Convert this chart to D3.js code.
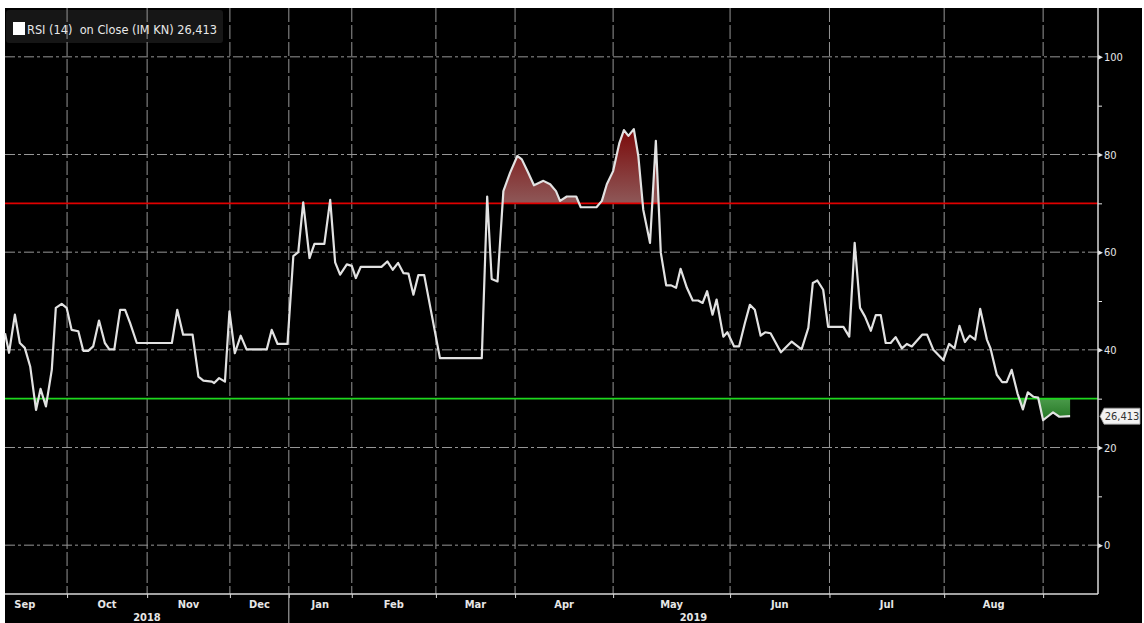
<!DOCTYPE html>
<html lang="en">
<head>
    <meta charset="UTF-8">
    <script src="https://cdn.jsdelivr.net/npm/d3@7"></script>
    <title>RSI (14) IM KN</title>
    <style>
        body { margin: 0; background: white; }
        svg { display: block; }
        text {
            font-family: "Liberation Sans Narrow", "DejaVu Sans Condensed", "Roboto", sans-serif;
            fill: #e6e6e6;
        }
        .legend { white-space: pre; }
    </style>
</head>
<body>
    <div id="chart"></div>
    <script>
        // RSI readings: [trading session, value]
        const rsiPoints = [
            [0, 43.4], [0.9, 39.4], [2.2, 47.2], [3.3, 41.4], [4.4, 40.4], [5.6, 36.6], [6.9, 27.7],
            [7.9, 32], [9.1, 28.4], [10.4, 35.9], [11.3, 48.6], [12.6, 49.4], [13.7, 48.6], [14.8, 44.1],
            [16.3, 43.8], [17.4, 39.8], [18.5, 39.8], [19.6, 40.7], [20.9, 46], [22.2, 41.4], [23.2, 40.1],
            [24.3, 40.1], [25.6, 48.2], [26.7, 48.2], [27.8, 45.5], [29.3, 41.4], [37.1, 41.4], [38.3, 48.2],
            [39.6, 43.1], [41.7, 43.1], [43.0, 34.5], [44.1, 33.7], [46.0, 33.5], [46.5, 33.2], [47.6, 34.2],
            [48.9, 33.5], [49.9, 47.9], [51.1, 39.3], [52.4, 42.9], [53.7, 40.1], [58.2, 40.1], [59.3, 44.1],
            [60.6, 41.2], [62.8, 41.2], [64.1, 59.2], [65.2, 60], [66.3, 70.2], [67.7, 58.8], [68.8, 61.7],
            [71.0, 61.7], [72.3, 70.7], [73.4, 57.9], [74.5, 55.4], [76.0, 57.5], [77.1, 57.2], [78.0, 54.7],
            [79.1, 57], [83.7, 57], [85.0, 58.1], [86.2, 56.4], [87.4, 57.8], [88.6, 55.7], [89.7, 55.6],
            [90.8, 51.3], [91.9, 55.3], [93.2, 55.3], [96.7, 38.3], [106.0, 38.3], [107.2, 71.4], [108.2, 54.5],
            [109.5, 54], [110.8, 72.5], [112.3, 76.3], [113.9, 79.7], [114.9, 79], [116.3, 76.3], [117.6, 73.7],
            [119.7, 74.6], [121.2, 73.9], [122.5, 72.5], [123.4, 70.5], [124.9, 71.4], [127.0, 71.4], [128.0, 69.2],
            [131.5, 69.2], [132.7, 70.5], [133.8, 73.9], [135.2, 76.6], [136.6, 82.4], [137.6, 85], [138.6, 83.8],
            [139.8, 85.2], [140.8, 79.7], [141.9, 68.7], [143.4, 61.9], [144.7, 82.8], [145.8, 59.9], [147.0, 53.2],
            [148.1, 53.2], [149.2, 52.7], [150.2, 56.6], [151.6, 52.7], [152.9, 50.1], [154.1, 50.1], [155.1, 49.6],
            [156.1, 52], [157.3, 47.2], [158.2, 50.3], [159.7, 42.7], [160.6, 43.6], [162.1, 40.7], [163.2, 40.7],
            [164.5, 45.5], [165.6, 49.2], [166.7, 48.2], [168.0, 42.9], [169.0, 43.6], [170.2, 43.4], [172.5, 39.5],
            [174.9, 41.7], [177.1, 40.1], [178.6, 44.5], [179.6, 53.7], [180.6, 54.2], [181.9, 52.3], [183.0, 44.7],
            [186.4, 44.7], [187.7, 42.7], [188.9, 61.9], [190.1, 48.6], [191.2, 46.8], [192.5, 43.9], [193.6, 47.1],
            [194.7, 47.1], [195.8, 41.4], [196.9, 41.4], [198.0, 42.6], [199.4, 40.3], [200.5, 41.2], [201.6, 40.7],
            [203.9, 43.1], [205.0, 43.1], [206.4, 40], [208.6, 37.9], [209.9, 41.2], [211.1, 40.3], [212.2, 44.9],
            [213.4, 41.6], [214.5, 42.9], [215.7, 42.1], [216.8, 48.4], [218.3, 42.1], [219.1, 40.3], [220.5, 34.9],
            [221.7, 33.4], [222.7, 33.4], [223.8, 35.9], [225.1, 31.1], [226.3, 27.8], [227.4, 31.3], [228.6, 30.4],
            [229.7, 30.2], [230.8, 25.6], [231.9, 26.4], [233.0, 27.2], [234.4, 26.3], [236.8, 26.413]
        ];

        // month boundaries in sessions (Sep starts before the chart)
        const monthStarts = [-5, 13.8, 31.6, 50.0, 63.1, 77.1, 95.8, 113.4, 135.2, 161.2, 183.3, 208.8, 230.8, 255];
        const monthLabels = ["Sep", "Oct", "Nov", "Dec", "Jan", "Feb", "Mar", "Apr", "May", "Jun", "Jul", "Aug"];
        const yearLabels = [{ year: "2018", from: 0, to: 63.1 }, { year: "2019", from: 63.1, to: 243 }];
        const majorTicks = [0, 20, 40, 60, 80, 100];
        const minorTicks = [10, 30, 50, 70, 90];
        const overbought = 70;
        const oversold = 30;
        const lastValue = "26,413";
        const legendText = "RSI (14)  on Close (IM KN) 26,413";

        const width = 1144, height = 623;
        const plot = { left: 5, right: 1098, top: 8, bottom: 594 };

        const svg = d3.select("#chart").append("svg")
            .attr("width", width)
            .attr("height", height);

        // black panel
        svg.append("rect")
            .attr("x", 5).attr("y", 8)
            .attr("width", 1137).attr("height", height - 8)
            .attr("fill", "#000");

        const x = d3.scaleLinear().domain([0, 243]).range([plot.left, plot.right]);
        const y = d3.scaleLinear().domain([-10, 110]).range([plot.bottom, plot.top]);

        const defs = svg.append("defs");
        const redGrad = defs.append("linearGradient").attr("id", "redGrad")
            .attr("gradientUnits", "userSpaceOnUse")
            .attr("x1", 0).attr("x2", 0).attr("y1", y(86)).attr("y2", y(overbought));
        redGrad.append("stop").attr("offset", "0%").attr("stop-color", "#7a0606");
        redGrad.append("stop").attr("offset", "100%").attr("stop-color", "#8e5858");
        const greenGrad = defs.append("linearGradient").attr("id", "greenGrad")
            .attr("gradientUnits", "userSpaceOnUse")
            .attr("x1", 0).attr("x2", 0).attr("y1", y(oversold)).attr("y2", y(25));
        greenGrad.append("stop").attr("offset", "0%").attr("stop-color", "#4a9a4a");
        greenGrad.append("stop").attr("offset", "100%").attr("stop-color", "#1d6f1d");

        defs.append("clipPath").attr("id", "clipAbove")
            .append("rect")
            .attr("x", plot.left).attr("y", plot.top)
            .attr("width", plot.right - plot.left).attr("height", y(overbought) - plot.top);
        defs.append("clipPath").attr("id", "clipBelow")
            .append("rect")
            .attr("x", plot.left).attr("y", y(oversold))
            .attr("width", plot.right - plot.left).attr("height", plot.bottom - y(oversold));

        // legend background
        svg.append("rect")
            .attr("x", 6).attr("y", 10)
            .attr("width", 217).attr("height", 33)
            .attr("rx", 3)
            .attr("fill", "#161616");

        // gridlines
        svg.append("g")
            .selectAll("line")
            .data(majorTicks)
            .join("line")
            .attr("x1", plot.left).attr("x2", plot.right)
            .attr("y1", d => y(d)).attr("y2", d => y(d))
            .attr("stroke", "#969696")
            .attr("stroke-width", 1)
            .attr("stroke-dasharray", "10,3,3,3");

        svg.append("g")
            .selectAll("line")
            .data(monthStarts.filter(d => d > 0 && d < 243))
            .join("line")
            .attr("x1", d => x(d)).attr("x2", d => x(d))
            .attr("y1", plot.top).attr("y2", plot.bottom)
            .attr("stroke", "#969696")
            .attr("stroke-width", 1)
            .attr("stroke-dasharray", "14,3");

        // legend content
        svg.append("rect")
            .attr("x", 13).attr("y", 22)
            .attr("width", 12).attr("height", 13)
            .attr("fill", "#fff");
        svg.append("text")
            .attr("class", "legend")
            .attr("x", 27).attr("y", 34)
            .attr("font-size", 12)
            .attr("textLength", 190)
            .attr("lengthAdjust", "spacingAndGlyphs")
            .style("fill", "#e8e8e8")
            .text(legendText);

        // threshold fills
        const area = base => d3.area()
            .x(d => x(d[0]))
            .y0(y(base))
            .y1(d => y(d[1]));

        svg.append("path")
            .datum(rsiPoints)
            .attr("clip-path", "url(#clipAbove)")
            .attr("fill", "url(#redGrad)")
            .attr("d", area(overbought));
        svg.append("path")
            .datum(rsiPoints)
            .attr("clip-path", "url(#clipBelow)")
            .attr("fill", "url(#greenGrad)")
            .attr("d", area(oversold));

        // threshold lines
        svg.append("line")
            .attr("x1", plot.left).attr("x2", plot.right)
            .attr("y1", y(overbought)).attr("y2", y(overbought))
            .attr("stroke", "#e00000").attr("stroke-width", 1.6);
        svg.append("line")
            .attr("x1", plot.left).attr("x2", plot.right)
            .attr("y1", y(oversold)).attr("y2", y(oversold))
            .attr("stroke", "#1ed81e").attr("stroke-width", 1.6);

        // RSI line
        svg.append("path")
            .datum(rsiPoints)
            .attr("fill", "none")
            .attr("stroke", "#e2e2e2")
            .attr("stroke-width", 2.2)
            .attr("stroke-linejoin", "round")
            .attr("d", d3.line().x(d => x(d[0])).y(d => y(d[1])));

        // right axis
        const yAxis = svg.append("g")
            .attr("transform", `translate(${plot.right},0)`)
            .call(d3.axisRight(y).tickValues(majorTicks).tickSize(0).tickPadding(6));
        yAxis.select(".domain").remove();
        yAxis.selectAll("text")
            .attr("font-size", 11)
            .style("fill", "#e6e6e6");
        yAxis.selectAll(".tick").append("path")
            .attr("d", "M0,-2.5L5,0L0,2.5Z")
            .attr("fill", "#e6e6e6");

        const yMinor = svg.append("g")
            .attr("transform", `translate(${plot.right},0)`)
            .call(d3.axisRight(y).tickValues(minorTicks).tickSize(4).tickFormat(""));
        yMinor.select(".domain").remove();
        yMinor.selectAll("line").attr("stroke", "#e6e6e6");

        svg.append("line")
            .attr("x1", plot.right).attr("x2", plot.right)
            .attr("y1", plot.top).attr("y2", plot.bottom)
            .attr("stroke", "#d8d8d8").attr("stroke-width", 1.5);

        // bottom axis
        const xAxis = svg.append("g")
            .attr("transform", `translate(0,${plot.bottom})`)
            .call(d3.axisBottom(x).tickValues(monthStarts.filter(d => d > 0 && d < 243)).tickSize(4).tickFormat(""));
        xAxis.select(".domain").remove();
        xAxis.selectAll("line").attr("stroke", "#d8d8d8");

        svg.append("line")
            .attr("x1", plot.left).attr("x2", plot.right)
            .attr("y1", plot.bottom).attr("y2", plot.bottom)
            .attr("stroke", "#d8d8d8").attr("stroke-width", 1.5);

        // year separator
        svg.append("line")
            .attr("x1", x(yearLabels[1].from)).attr("x2", x(yearLabels[1].from))
            .attr("y1", plot.bottom).attr("y2", height)
            .attr("stroke", "#bdbdbd").attr("stroke-width", 1);

        svg.append("g")
            .selectAll("text")
            .data(monthLabels)
            .join("text")
            .attr("x", (d, i) => x((monthStarts[i] + monthStarts[i + 1]) / 2))
            .attr("y", 608)
            .attr("text-anchor", "middle")
            .attr("font-size", 11)
            .attr("font-weight", "bold")
            .text(d => d);

        svg.append("g")
            .selectAll("text")
            .data(yearLabels)
            .join("text")
            .attr("x", d => x((d.from + d.to) / 2))
            .attr("y", 621)
            .attr("text-anchor", "middle")
            .attr("font-size", 11)
            .attr("font-weight", "bold")
            .text(d => d.year);

        // last value tag
        const lastY = y(rsiPoints[rsiPoints.length - 1][1]);
        svg.append("path")
            .attr("d", `M${plot.right + 2},${lastY} L${plot.right + 6},${lastY - 8} L${plot.right + 42},${lastY - 8} L${plot.right + 42},${lastY + 8} L${plot.right + 6},${lastY + 8} Z`)
            .attr("fill", "#f2f2f2")
            .attr("stroke", "#9a9a9a")
            .attr("stroke-width", 0.8);
        svg.append("text")
            .attr("x", plot.right + 24).attr("y", lastY + 4)
            .attr("text-anchor", "middle")
            .attr("font-size", 11)
            .style("fill", "#333")
            .text(lastValue);
    </script>
</body>
</html>
